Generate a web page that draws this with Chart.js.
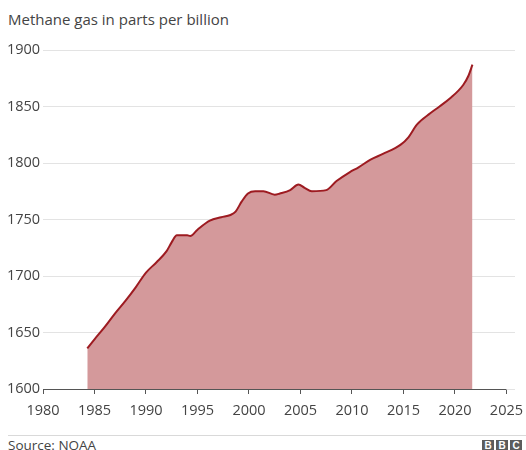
<!DOCTYPE html>
<html>
<head>
<meta charset="utf-8">
<script src="https://cdn.jsdelivr.net/npm/chart.js@4/dist/chart.umd.min.js"></script>
<style>
  html, body { margin: 0; padding: 0; background: #fff; }
  body { width: 526px; height: 450px; overflow: hidden; position: relative; font-family: "Open Sans", "Noto Sans", sans-serif; }
  #title { position: absolute; left: 8px; top: 11px; font-size: 15px; line-height: 16px; color: #444444; white-space: nowrap; }
  #sep { position: absolute; left: 8px; right: 0; top: 435px; height: 1px; background: #d9d9d9; }
  #source { position: absolute; left: 8px; top: 437px; font-size: 13.5px; line-height: 16px; color: #444444; white-space: nowrap; }
  #logo { position: absolute; left: 482px; top: 440px; display: flex; gap: 2px; }
  #logo span { display: block; width: 12px; height: 12px; background: #5c5c5c; color: #fff; font: bold 10px/12px "Liberation Sans", Arial, sans-serif; text-align: center; }
  #c { position: absolute; left: 0; top: 0; }
</style>
</head>
<body>
<div id="title">Methane gas in parts per billion</div>
<canvas id="c" width="526" height="430"></canvas>
<div id="sep"></div>
<div id="source">Source: NOAA</div>
<div id="logo"><span>B</span><span>B</span><span>C</span></div>
<script>
// ---- data ----
const years = [1984.3, 1985, 1986, 1987, 1988, 1989, 1990, 1991, 1992, 1992.5, 1993, 1994, 1994.3,
  1995, 1996.2, 1997.3, 1998.2, 1998.7, 1999.3, 1999.9, 2000.6, 2001.4, 2002.5, 2003, 2004,
  2004.8, 2005.4, 2006.1, 2007.5, 2008.5, 2009.8, 2010.6, 2011.8, 2013, 2014.7, 2015.5,
  2016.3, 2017.6, 2018.5, 2019.5, 2020.8, 2021.3, 2021.7];
const methanePpb = [1636, 1644, 1655, 1667, 1678, 1690, 1703, 1712, 1722, 1730, 1736, 1736, 1735.5,
  1741, 1749, 1752, 1754, 1757, 1766, 1773, 1775, 1775, 1772, 1773, 1776,
  1781, 1778, 1775, 1776, 1784, 1792, 1796, 1803, 1808, 1816, 1823,
  1834, 1844, 1850, 1857, 1869, 1877, 1887];
const xTickYears = [1980, 1985, 1990, 1995, 2000, 2005, 2010, 2015, 2020, 2025];
const yTickValues = [1600, 1650, 1700, 1750, 1800, 1850, 1900];

const points = years.map((x, i) => ({ x: x, y: methanePpb[i] }));
const xAxisStart = xTickYears[0];
const xAxisEnd = xTickYears[xTickYears.length - 1];

const axisLinePlugin = {
  id: 'axisLine',
  afterDatasetsDraw(chart) {
    const xs = chart.scales.x, ys = chart.scales.y;
    const y = Math.round(ys.getPixelForValue(yTickValues[0])) + 0.5;
    const ctx = chart.ctx;
    ctx.save();
    ctx.strokeStyle = '#555555';
    ctx.lineWidth = 1;
    ctx.beginPath();
    ctx.moveTo(xs.getPixelForValue(xAxisStart), y);
    ctx.lineTo(xs.getPixelForValue(xAxisEnd), y);
    ctx.stroke();
    ctx.restore();
  }
};

new Chart(document.getElementById('c'), {
  type: 'line',
  data: {
    datasets: [{
      data: points,
      borderColor: '#9d1b21',
      borderWidth: 2,
      backgroundColor: '#d4999b',
      fill: 'start',
      pointRadius: 0,
      cubicInterpolationMode: 'monotone'
    }]
  },
  options: {
    responsive: false,
    devicePixelRatio: 1,
    animation: false,
    layout: { padding: { left: 7, right: 11, top: 50, bottom: 11 } },
    plugins: { legend: { display: false }, tooltip: { enabled: false }, title: { display: false } },
    scales: {
      x: {
        type: 'linear',
        min: 1980,
        max: 2025.83,
        afterBuildTicks: (s) => { s.ticks = xTickYears.map(v => ({ value: v })); },
        afterFit: (s) => { s.height = 30; s.paddingLeft = 0; s.paddingRight = 0; },
        border: { display: false },
        grid: { drawOnChartArea: false, drawTicks: true, tickLength: 5, color: '#555555' },
        ticks: {
          autoSkip: false,
          maxRotation: 0,
          padding: 8,
          color: '#444444',
          font: { family: '"Open Sans", "Noto Sans", sans-serif', size: 14.5 },
          callback: (v) => String(v)
        }
      },
      y: {
        min: 1600,
        max: 1900,
        afterBuildTicks: (s) => { s.ticks = yTickValues.map(v => ({ value: v })); },
        afterFit: (s) => { s.width = 36; },
        border: { display: false },
        grid: { color: '#e3e3e3', drawTicks: false },
        ticks: {
          crossAlign: 'far',
          padding: 0,
          color: '#444444',
          font: { family: '"Open Sans", "Noto Sans", sans-serif', size: 14.5 },
          callback: (v) => String(v)
        }
      }
    }
  },
  plugins: [axisLinePlugin]
});
</script>
</body>
</html>
